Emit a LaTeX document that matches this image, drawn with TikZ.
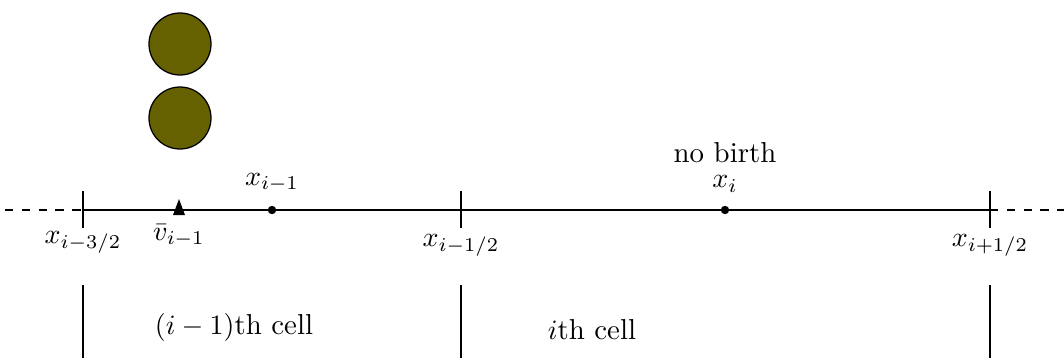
\documentclass[tikz,border=0pt]{standalone}
\definecolor{ballc}{RGB}{102,97,0}
\begin{document}
\begin{tikzpicture}[x=0.3571pt,y=-0.3571pt,
  every node/.style={font=\fontsize{10.3}{12.4}\selectfont},
  tick/.style={line width=0.45pt},
  ball/.style={circle,draw=black,line width=0.45pt,fill=ballc,minimum size=62*0.3571pt,inner sep=0pt},
  pt/.style={circle,fill=black,inner sep=0pt,minimum size=3pt},
  lbl/.style={inner sep=0pt}]
\useasboundingbox (0,0) rectangle (1064,362);
% axis
\coordinate (L0) at (5,210);
\coordinate (A) at (83,210);
\coordinate (B) at (461,210);
\coordinate (C) at (990,210);
\coordinate (R0) at (1064,210);
\draw[dashed,line width=0.45pt] (L0) -- (A);
\draw[line width=0.45pt] (A) -- (C);
\draw[dashed,line width=0.45pt] (C) -- (R0);
% ticks
\foreach \n/\x in {a/83,b/461,c/990}{
  \coordinate (t\n1) at (\x,191); \coordinate (t\n2) at (\x,228);
  \draw[tick] (t\n1) -- (t\n2);
  \coordinate (v\n1) at (\x,285); \coordinate (v\n2) at (\x,358);
  \draw[tick] (v\n1) -- (v\n2);
}
% labels of cell edges
\node[lbl] (la) at (83,242) {$x_{i-3/2}$};
\node[lbl] (lb) at (461,245) {$x_{i-1/2}$};
\node[lbl] (lc) at (990,245) {$x_{i+1/2}$};
% points
\node[pt] (p1) at (272,210) {};
\node[lbl] (p1l) at (272,183) {$x_{i-1}$};
\node[pt] (p2) at (725,210) {};
\node[lbl] (p2l) at (725,184) {$x_i$};
\node[lbl] (nb) at (725,153) {no birth};
% triangle
\fill (173,215) -- (179,199) -- (185,215) -- cycle;
\node[lbl] (vl) at (179,236) {$\bar v_{i-1}$};
% balls
\node[ball] (b1) at (180,44) {};
\node[ball] (b2) at (180,118) {};
% cells
\node[lbl] (c1) at (234,327) {$(i-1)$th cell};
\node[lbl] (c2) at (592,330) {$i$th cell};
\end{tikzpicture}
\end{document}
